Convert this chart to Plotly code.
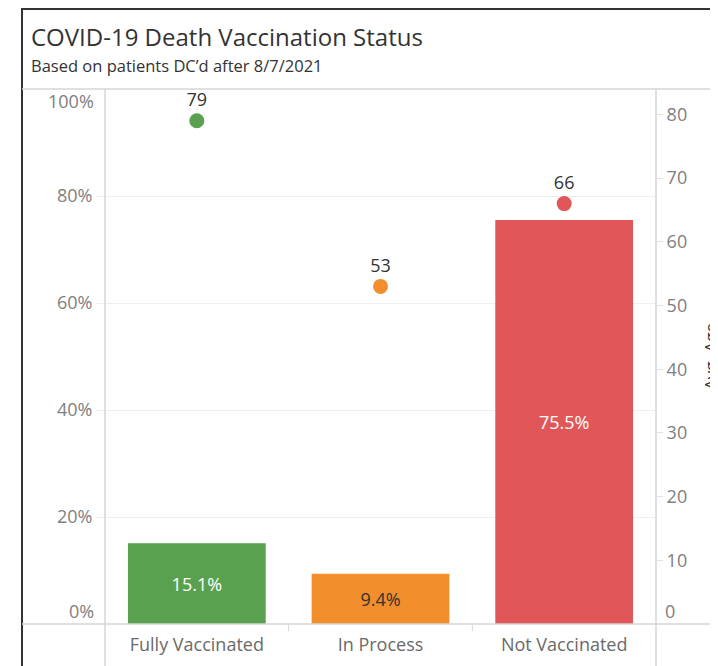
import plotly.graph_objects as go

categories = ["Fully Vaccinated", "In Process", "Not Vaccinated"]
pct_deaths = [0.151, 0.094, 0.755]
pct_labels = ["15.1%", "9.4%", "75.5%"]
avg_age = [79, 53, 66]
colors = ["#59A14F", "#F28E2B", "#E15759"]
bar_text_colors = ["#ffffff", "#333333", "#ffffff"]

left_ticks = [0.2, 0.4, 0.6, 0.8]
left_tick_text = ["20%", "40%", "60%", "80%"]
right_ticks = [10, 20, 30, 40, 50, 60, 70, 80]

FONT = "Open Sans"
GRAY = "#808080"
LINE = "#d6d6d6"
O = 8  # page body margin offset

W, H = 718, 666
PL, PR, PT, PB = 105 - O, 656 - O, 89 - O, 624 - O
PW, PH = PR - PL, PB - PT

fig = go.Figure()
fig.add_trace(go.Bar(
    x=categories, y=pct_deaths, marker=dict(color=colors, line=dict(width=0)),
    text=pct_labels, textposition="inside", insidetextanchor="middle",
    textfont=dict(family=FONT, size=18, color=bar_text_colors),
    hoverinfo="skip", showlegend=False, yaxis="y"))
fig.add_trace(go.Scatter(
    x=categories, y=avg_age, mode="markers+text", yaxis="y2",
    marker=dict(color=colors, size=15),
    text=[str(v) for v in avg_age], textposition="top center",
    textfont=dict(family=FONT, size=18, color="#333333"),
    hoverinfo="skip", showlegend=False))

fig.update_layout(
    width=W, height=H,
    margin=dict(l=PL, r=W - PR, t=PT, b=H - PB),
    paper_bgcolor="white", plot_bgcolor="white",
    bargap=0.25,
    font=dict(family=FONT, color=GRAY),
    xaxis=dict(showgrid=False, zeroline=False, showline=False, ticks="outside",
               ticklen=4, tickcolor="rgba(0,0,0,0)",
               tickfont=dict(size=18, color="#6a6a6a"), fixedrange=True),
    yaxis=dict(range=[0, 1.0], tickvals=left_ticks, ticktext=left_tick_text,
               showgrid=True, gridcolor="#eeeeee", zeroline=False, showline=False,
               tickfont=dict(size=18, color=GRAY), ticks="outside", ticklen=8,
               tickcolor="#eeeeee", automargin=False),
    yaxis2=dict(range=[0, PH / 63.7 * 10], overlaying="y", side="right",
                tickvals=right_ticks, showgrid=False, zeroline=False, showline=False,
                ticks="outside", ticklen=6, tickcolor="#e3e3e3",
                tickfont=dict(size=18, color=GRAY), automargin=False,
                title=dict(text="Avg. Age", font=dict(size=17, color="#333333"), standoff=18)),
)

# edge tick labels shifted inward as in the reference
fig.add_annotation(x=0, xref="paper", xanchor="right", xshift=-9, y=1.0, yref="y",
                   yshift=-12, text="100%", showarrow=False,
                   font=dict(size=18, color=GRAY, family=FONT))
fig.add_annotation(x=0, xref="paper", xanchor="right", xshift=-9, y=0, yref="y",
                   yshift=13, text="0%", showarrow=False,
                   font=dict(size=18, color=GRAY, family=FONT))
fig.add_annotation(x=1, xref="paper", xanchor="left", xshift=7, y=0, yref="y2",
                   yshift=13, text="0", showarrow=False,
                   font=dict(size=18, color=GRAY, family=FONT))


def px_x(p):
    return (p - O - PL) / PW


def px_y(p):
    return (PB - (p - O)) / PH


# title and subtitle
fig.add_annotation(x=px_x(29), xref="paper", xanchor="left", y=px_y(37),
                   yref="paper", yanchor="middle", showarrow=False,
                   text="COVID-19 Death Vaccination Status",
                   font=dict(size=24, color="#333333", family=FONT))
fig.add_annotation(x=px_x(29), xref="paper", xanchor="left", y=px_y(66),
                   yref="paper", yanchor="middle", showarrow=False,
                   text="Based on patients DC\u2019d after 8/7/2021",
                   font=dict(size=16.5, color="#333333", family=FONT))

# frame and divider lines
shapes = [
    dict(type="line", x0=px_x(21), x1=px_x(730), y0=px_y(9), y1=px_y(9), line=dict(color="#333333", width=2)),
    dict(type="line", x0=px_x(22), x1=px_x(22), y0=px_y(8), y1=px_y(680), line=dict(color="#333333", width=2)),
    dict(type="line", x0=px_x(22), x1=px_x(730), y0=px_y(89), y1=px_y(89), line=dict(color=LINE, width=1.5)),
    dict(type="line", x0=px_x(22), x1=px_x(730), y0=px_y(624), y1=px_y(624), line=dict(color=LINE, width=1.5)),
    dict(type="line", x0=px_x(105), x1=px_x(105), y0=px_y(89), y1=px_y(680), line=dict(color=LINE, width=1.5)),
    dict(type="line", x0=px_x(656), x1=px_x(656), y0=px_y(89), y1=px_y(680), line=dict(color=LINE, width=1.5)),
    dict(type="line", x0=1/3, x1=1/3, y0=px_y(624), y1=px_y(631), line=dict(color=LINE, width=1)),
    dict(type="line", x0=2/3, x1=2/3, y0=px_y(624), y1=px_y(631), line=dict(color=LINE, width=1)),
]
for s in shapes:
    s.update(xref="paper", yref="paper", layer="above")
fig.update_layout(shapes=shapes)

fig.write_html("out.html")
